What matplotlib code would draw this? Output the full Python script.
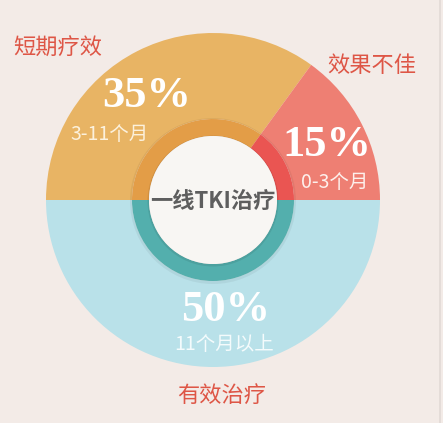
import matplotlib.pyplot as plt
from matplotlib.patches import Circle

plt.rcParams['font.family'] = ['Noto Sans CJK SC', 'DejaVu Sans']

# data
shares = [35, 15, 50]
pct_labels = ['35%', '15%', '50%']
sub_labels = ['3-11个月', '0-3个月', '11个月以上']
cat_labels = ['短期疗效', '效果不佳', '有效治疗']
center_label = '一线TKI治疗'

outer_colors = ['#E8B464', '#EE7F73', '#B9E1E9']
inner_colors = ['#E39D47', '#EA5552', '#53AFAD']
bg = '#F3EBE7'

fig = plt.figure(figsize=(4.43, 4.23), dpi=100, facecolor=bg)
ax = fig.add_axes([0, 0, 1, 1])
ax.set_facecolor(bg)

cx, cy = 213, 223  # pixel coords, y from bottom
R, r_ring, r_core = 167, 81, 64

ax.pie(shares, radius=R, center=(cx, cy), startangle=180, counterclock=False,
       colors=outer_colors, wedgeprops=dict(width=R - r_ring, linewidth=0))
# soft shadow under inner ring
ax.add_patch(Circle((cx, cy - 1), r_ring + 2, color='#000000', alpha=0.05, lw=0))
ax.pie(shares, radius=r_ring, center=(cx, cy), startangle=180, counterclock=False,
       colors=inner_colors, wedgeprops=dict(width=r_ring - r_core, linewidth=0))
ax.add_patch(Circle((cx, cy - 1), r_core + 1.5, color='#000000', alpha=0.08, lw=0))
ax.add_patch(Circle((cx, cy), r_core, color='#F8F6F3', lw=0))

# right border line
ax.plot([440, 440], [0, 423], color='#E2DAD6', lw=1.2)

ax.set_xlim(0, 443)
ax.set_ylim(0, 423)
ax.set_aspect('equal')
ax.axis('off')

serif = ['Liberation Serif', 'DejaVu Serif']
pct_pos = [(147, 327), (327, 278), (226, 113)]
sub_pos = [(110, 289), (335, 241), (224, 79)]
sub_colors = ['#FCF1DC', '#FDF0EC', '#F4FBFC']
for p, s, pp, sp_, sc in zip(pct_labels, sub_labels, pct_pos, sub_pos, sub_colors):
    ax.text(*pp, p, fontsize=32, fontweight='bold', family=serif, color='white',
            ha='center', va='center')
    ax.text(*sp_, s, fontsize=14, fontweight='light', color=sc, ha='center', va='center')

cat_pos = [(58, 375), (372, 358), (222, 28)]
for c, pos in zip(cat_labels, cat_pos):
    ax.text(*pos, c, fontsize=16, fontweight='light', color='#DE5646',
            ha='center', va='center')

ax.text(cx, 222, center_label, fontsize=16, fontweight='bold', color='#5E5E5E',
        ha='center', va='center')

fig.savefig('out.png', dpi=100, facecolor=bg)
